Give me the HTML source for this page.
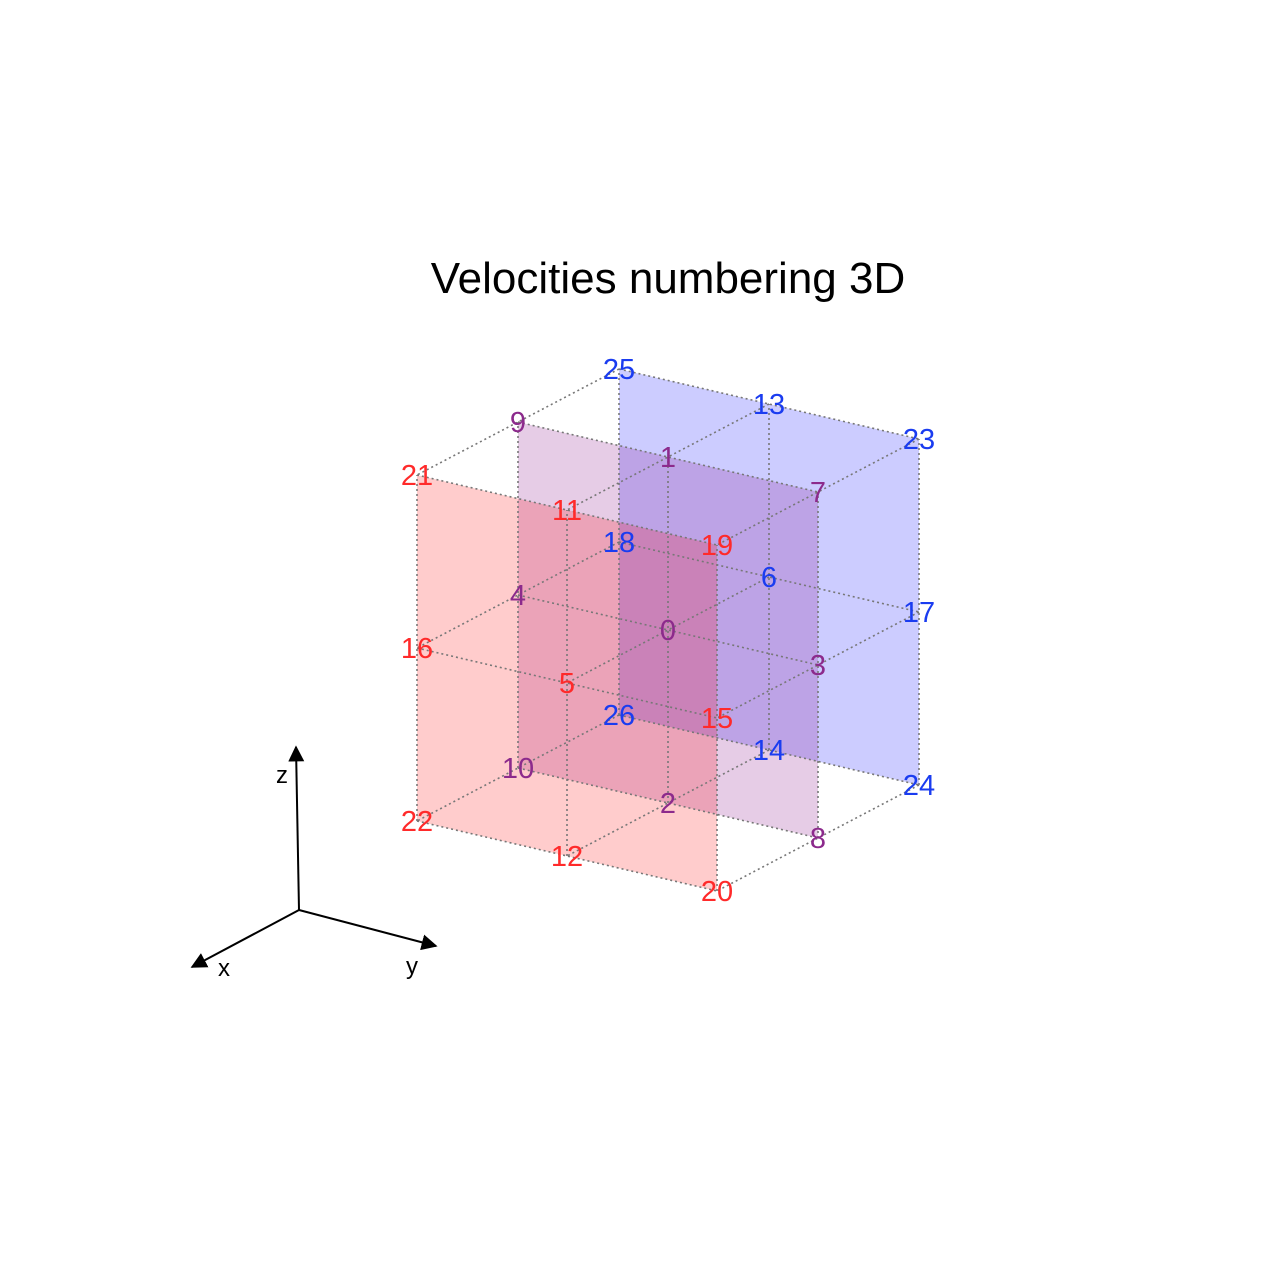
<!DOCTYPE html>
<html><head><meta charset="utf-8"><style>
html,body{margin:0;padding:0;background:#fff;}
svg{display:block;font-family:"Liberation Sans",sans-serif;}
</style></head><body>
<svg id="chart" width="1280" height="1280" viewBox="0 0 1280 1280">
<text x="668" y="293" font-size="44" text-anchor="middle">Velocities numbering 3D</text>
<g id="planes"></g>
<g id="grid"></g>
<g id="labels"></g>
<g>
<defs><marker id="ah" viewBox="0 0 10 10" refX="9" refY="5" markerWidth="8" markerHeight="8" orient="auto"><path d="M0,0 L10,5 L0,10 z" fill="#000"/></marker></defs>
<line x1="299" y1="910" x2="296" y2="747" stroke="#000" stroke-width="2" marker-end="url(#ah)"/>
<line x1="299" y1="910" x2="192" y2="967" stroke="#000" stroke-width="2" marker-end="url(#ah)"/>
<line x1="299" y1="910" x2="436" y2="946" stroke="#000" stroke-width="2" marker-end="url(#ah)"/>
<text x="282" y="783" font-size="24" text-anchor="middle">z</text>
<text x="224" y="976" font-size="24" text-anchor="middle">x</text>
<text x="412" y="974" font-size="24" text-anchor="middle">y</text>
</g>
</svg>
<script>
// lattice data: velocity id and its (x,y,z) components
const ids = [0,1,2,3,4,5,6,7,8,9,10,11,12,13,14,15,16,17,18,19,20,21,22,23,24,25,26];
const cx  = [0,0,0,0,0,1,-1,0,0,0,0,1,1,-1,-1,1,1,-1,-1,1,1,1,1,-1,-1,-1,-1];
const cy  = [0,0,0,1,-1,0,0,1,1,-1,-1,0,0,0,0,1,-1,1,-1,1,1,-1,-1,1,1,-1,-1];
const cz  = [0,1,-1,0,0,0,0,1,-1,1,-1,1,-1,1,-1,0,0,0,0,1,-1,1,-1,1,-1,1,-1];
const planeX = [-1,0,1];
const planeColors = ["#0000ff","#800080","#ff0000"];
const labelColors = {"-1":"#1a3cf0","0":"#8c2a8c","1":"#ff2a2a"};

const O=[668,630], EX=[-101,53], EY=[150,35], EZ=[0,-173];
function P(x,y,z){return [O[0]+x*EX[0]+y*EY[0]+z*EZ[0], O[1]+x*EX[1]+y*EY[1]+z*EZ[1]];}
const NS="http://www.w3.org/2000/svg";
const planes=document.getElementById('planes');
planeX.forEach((px,i)=>{
  const pts=[P(px,-1,1),P(px,1,1),P(px,1,-1),P(px,-1,-1)].map(p=>p.join(',')).join(' ');
  const el=document.createElementNS(NS,'polygon');
  el.setAttribute('points',pts);
  el.setAttribute('fill',planeColors[i]);
  el.setAttribute('fill-opacity','0.2');
  
  
  planes.appendChild(el);
});
const grid=document.getElementById('grid');
function line(a,b,name){
  const el=document.createElementNS(NS,'line');
  el.setAttribute('x1',a[0]);el.setAttribute('y1',a[1]);el.setAttribute('x2',b[0]);el.setAttribute('y2',b[1]);
  el.setAttribute('stroke','#777');el.setAttribute('stroke-width','1.6');el.setAttribute('stroke-dasharray','2,3');
  
  
  grid.appendChild(el);
}
const V=[-1,0,1];
V.forEach(a=>V.forEach(b=>{
  line(P(-1,a,b),P(1,a,b),'grid-line-x');
  line(P(a,-1,b),P(a,1,b),'grid-line-y');
  line(P(a,b,-1),P(a,b,1),'grid-line-z');
}));
const labels=document.getElementById('labels');
ids.forEach((id,i)=>{
  const p=P(cx[i],cy[i],cz[i]);
  const t=document.createElementNS(NS,'text');
  t.setAttribute('x',p[0]);t.setAttribute('y',p[1]+10);
  t.setAttribute('font-size','29');t.setAttribute('text-anchor','middle');
  t.setAttribute('fill',labelColors[String(cx[i])]);
  t.textContent=id;
  
  
  labels.appendChild(t);
});
</script>
</body></html>
